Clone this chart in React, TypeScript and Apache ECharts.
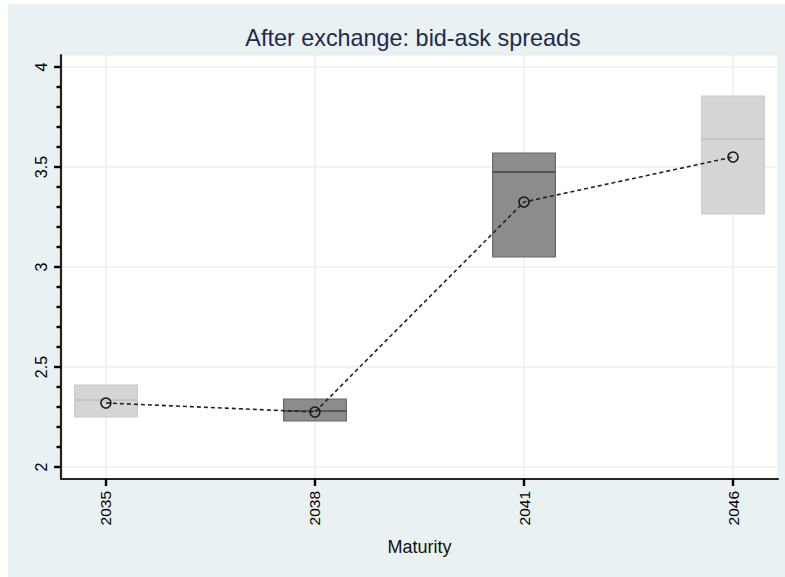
import React, { useEffect, useRef } from "react";
import * as echarts from "echarts";

const maturities = ["2035", "2038", "2041", "2046"];
const boxQ1 = [2.25, 2.23, 3.05, 3.265];
const boxMedian = [2.335, 2.28, 3.475, 3.64];
const boxQ3 = [2.41, 2.34, 3.57, 3.855];
const boxShade = ["light", "dark", "dark", "light"];
const meanValues = [2.32, 2.275, 3.325, 3.55];
const xPositions = [0, 1, 2, 3];
const yMajorTicks = [2, 2.5, 3, 3.5, 4];
const yMinorTicks = [2.1, 2.2, 2.3, 2.4, 2.6, 2.7, 2.8, 2.9, 3.1, 3.2, 3.3, 3.4, 3.6, 3.7, 3.8, 3.9];

const FONT = "'Liberation Sans', Arial, sans-serif";

export default function App() {
  const ref = useRef<HTMLDivElement>(null);

  useEffect(() => {
    if (!ref.current) return;
    const chart = echarts.init(ref.current, undefined, { renderer: "svg" });

    const boxData = xPositions.map((x, i) => [
      x,
      boxQ1[i],
      boxMedian[i],
      boxQ3[i],
      boxShade[i] === "dark" ? 1 : 0,
    ]);
    const meanData = xPositions.map((x, i) => [x, meanValues[i]]);

    const option: any = {
      animation: false,
      backgroundColor: "transparent",
      title: {
        text: "After exchange: bid-ask spreads",
        left: 408,
        top: 21,
        textAlign: "center",
        textStyle: {
          fontFamily: FONT,
          fontSize: 23.4,
          fontWeight: "normal",
          color: "#1e2b4f",
        },
      },
      grid: {
        left: 61,
        right: 7,
        top: 55,
        bottom: 98,
        show: true,
        backgroundColor: "#ffffff",
        borderColor: "#e4ecee",
        borderWidth: 1,
      },
      xAxis: {
        type: "value",
        min: -0.215,
        max: 3.215,
        name: "Maturity",
        nameLocation: "middle",
        nameGap: 59,
        nameTextStyle: { fontFamily: FONT, fontSize: 18, color: "#111" },
        axisLine: { show: true, onZero: false, lineStyle: { color: "#222", width: 2.2 } },
        axisTick: {
          show: true,
          customValues: xPositions,
          length: 7,
          lineStyle: { color: "#000", width: 2.4 },
        },
        axisLabel: {
          customValues: xPositions,
          rotate: 90,
          margin: 12,
          fontFamily: FONT,
          fontSize: 15.5,
          color: "#000",
          formatter: (v: number) => maturities[Math.round(v)],
        },
        splitLine: { show: true, lineStyle: { color: "#e8f0f2", width: 1.5 } },
      },
      yAxis: [
        {
          type: "value",
          min: 1.94,
          max: 4.06,
          position: "left",
          axisLine: { show: true, onZero: false, lineStyle: { color: "#222", width: 2.2 } },
          axisTick: {
            show: true,
            customValues: yMajorTicks,
            length: 7,
            lineStyle: { color: "#000", width: 2.4 },
          },
          axisLabel: {
            customValues: yMajorTicks,
            rotate: 90,
            margin: 12,
            fontFamily: FONT,
            fontSize: 16,
            color: "#000",
            formatter: (v: number) => String(v),
          },
          splitLine: { show: true, lineStyle: { color: "#e8f0f2", width: 1.5 } },
        },
        {
          type: "value",
          min: 1.94,
          max: 4.06,
          position: "left",
          offset: 0,
          axisLine: { show: false, onZero: false },
          axisTick: {
            show: true,
            customValues: yMinorTicks,
            length: 4.5,
            lineStyle: { color: "#000", width: 2.4 },
          },
          axisLabel: { show: false },
          splitLine: { show: false },
        },
      ],
      series: [
        {
          type: "custom",
          yAxisIndex: 0,
          data: boxData,
          encode: { x: 0, y: [1, 2, 3] },
          renderItem: (params: any, api: any) => {
            const x = api.value(0);
            const lo = api.coord([x, api.value(1)]);
            const med = api.coord([x, api.value(2)]);
            const hi = api.coord([x, api.value(3)]);
            const w = api.size([0.3, 0])[0];
            const dark = api.value(4) === 1;
            const fill = dark ? "#8c8c8c" : "#d5d5d5";
            const stroke = dark ? "#666666" : "#cacaca";
            const medColor = dark ? "#555555" : "#c4c4c4";
            return {
              type: "group",
              children: [
                {
                  type: "rect",
                  shape: { x: lo[0] - w / 2, y: hi[1], width: w, height: lo[1] - hi[1] },
                  style: { fill, stroke, lineWidth: 1.2 },
                },
                {
                  type: "line",
                  shape: { x1: lo[0] - w / 2, y1: med[1], x2: lo[0] + w / 2, y2: med[1] },
                  style: { stroke: medColor, lineWidth: 2 },
                },
              ],
            };
          },
          z: 2,
        },
        {
          type: "line",
          yAxisIndex: 0,
          data: meanData,
          symbol: "circle",
          symbolSize: 10,
          lineStyle: { color: "#222", width: 1.6, type: [4, 3] },
          itemStyle: { color: "transparent", borderColor: "#1a1a1a", borderWidth: 1.6 },
          z: 3,
        },
      ],
    };

    chart.setOption(option);
    return () => chart.dispose();
  }, []);

  return (
    <div style={{ position: "fixed", left: 0, top: 0, width: 785, height: 577, background: "#ffffff" }}>
      <div
        style={{
          position: "absolute",
          left: 8,
          top: 4,
          width: 777,
          height: 573,
          background: "#e9f1f3",
        }}
      />
      <div ref={ref} style={{ position: "absolute", left: 0, top: 0, width: 785, height: 577 }} />
    </div>
  );
}
